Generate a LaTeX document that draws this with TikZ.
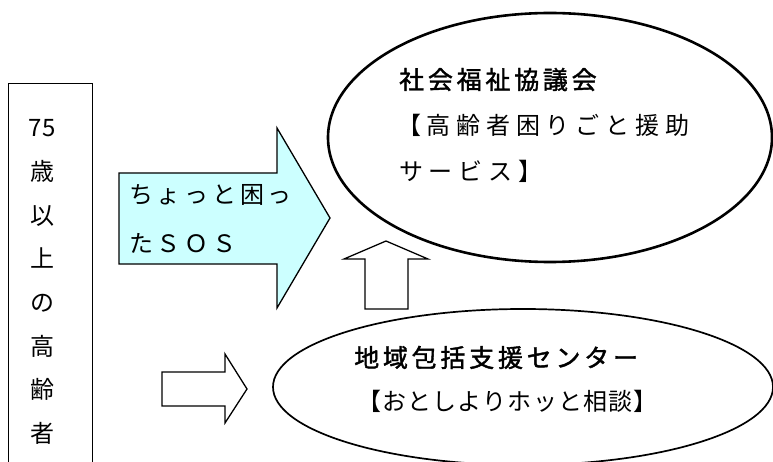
\documentclass[tikz,border=0pt]{standalone}
\usepackage{fontspec}
\usetikzlibrary{shapes.geometric}
\setmainfont{Noto Sans CJK JP}
\definecolor{sosblue}{HTML}{CCFFFF}
\tikzset{
  shapeline/.style={draw=black, line width=1.3pt, line join=miter},
  txt/.style={inner sep=0pt, anchor=west, text height=21pt, text depth=3pt},
  boldtxt/.style={txt, font=\fontsize{25}{25}\selectfont\addfontfeature{LetterSpace=15,FakeBold=1.6}},
  lighttxt/.style={txt, font=\fontsize{24}{24}\selectfont\addfontfeature{LetterSpace=#1}},
  colchar/.style={inner sep=0pt, text height=21pt, text depth=3pt, font=\fontsize{24}{24}\selectfont}
}
\begin{document}
\begin{tikzpicture}[x=1pt,y=-1pt]
\useasboundingbox (0,0) rectangle (773,462);
\clip (0,0) rectangle (773,462);

% left box with vertical text
\node[shapeline, anchor=north west, minimum width=84pt, minimum height=400pt, inner sep=0pt] (elder) at (8,83) {};
\foreach \t [count=\i] in {75,歳,以,上,の,高,齢,者}
  \node[colchar] (col\i) at ({42},{128+43.6*(\i-1)}) {\t};

% blue block arrow
\draw[shapeline, fill=sosblue] (119,173) -- (277,173) -- (277,128) -- (330,218)
  -- (277,308) -- (277,264) -- (119,264) -- cycle;
\node[lighttxt=15.6] (sos1) at (129,195) {ちょっと困っ};
\node[lighttxt=15.6] (sos2) at (129,243) {たＳＯＳ};

% top ellipse
\node[draw, ellipse, line width=2.6pt, minimum width=444pt, minimum height=249pt, inner sep=0pt] (shakyo) at (550,137.5) {};
\node[boldtxt] (shakyo1) at (399,80) {社会福祉協議会};
\node[lighttxt=24] (shakyo2) at (397,126) {【高齢者困りごと援助};
\node[lighttxt=24] (shakyo3) at (399,172) {サービス】};

% up block arrow
\draw[shapeline] (386,241) -- (428,259) -- (408,259) -- (408,309) -- (365,309)
  -- (365,259) -- (344,259) -- cycle;

% small right block arrow
\draw[shapeline] (162,372) -- (225,372) -- (225,354) -- (247,389) -- (225,423)
  -- (225,406) -- (162,406) -- cycle;

% bottom ellipse
\node[draw, ellipse, line width=1.7pt, minimum width=500pt, minimum height=156pt, inner sep=0pt] (center) at (523,387) {};
\node[boldtxt] (center1) at (354,358) {地域包括支援センター};
\node[lighttxt=5] (center2) at (357,401) {【おとしよりホッと相談】};
\end{tikzpicture}
\end{document}
